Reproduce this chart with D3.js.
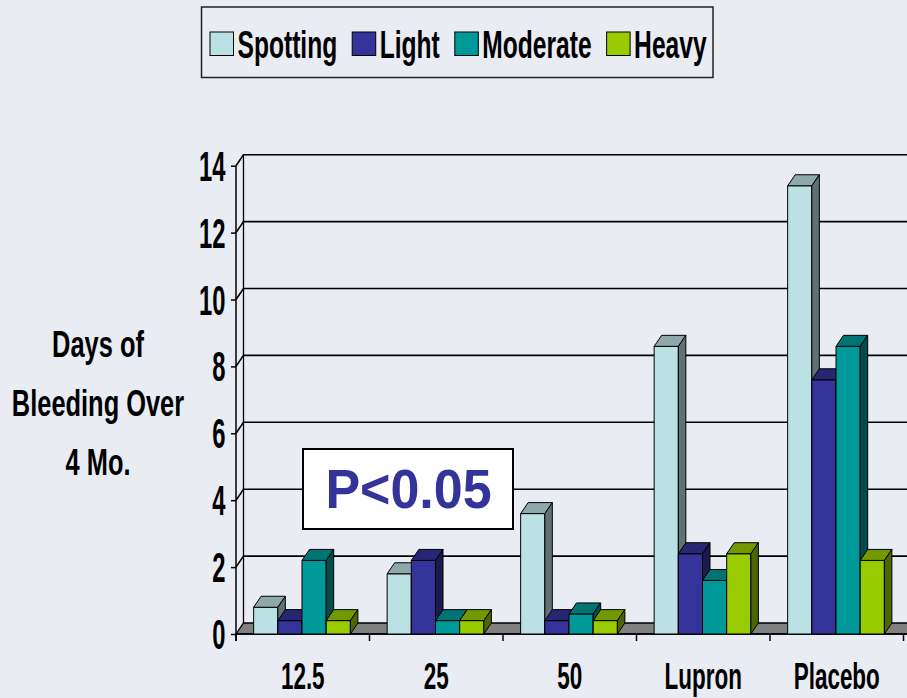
<!DOCTYPE html>
<html>
<head>
<meta charset="utf-8">
<script src="https://cdn.jsdelivr.net/npm/d3@7"></script>
<style>
  html, body { margin: 0; padding: 0; background: #E9EDF3; }
  svg { display: block; }
  .narrow { font-family: "Liberation Sans", Arial, sans-serif; font-weight: bold; }
</style>
</head>
<body>
<svg id="chart" width="907" height="698"></svg>
<script>
// Days of bleeding over four months, by dose group
const categories = ["12.5", "25", "50", "Lupron", "Placebo"];
const seriesNames = ["Spotting", "Light", "Moderate", "Heavy"];
const spotting = [0.8, 1.8, 3.6, 8.6, 13.4];
const light    = [0.4, 2.2, 0.4, 2.4, 7.6];
const moderate = [2.2, 0.4, 0.6, 1.6, 8.6];
const heavy    = [0.4, 0.4, 0.4, 2.4, 2.2];
const yTicks = [0, 2, 4, 6, 8, 10, 12, 14];
const yTitle = ["Days of", "Bleeding Over", "4 Mo."];
const note = "P<0.05";

const seriesValues = [spotting, light, moderate, heavy];
// front, top, side shades for each series
const palette = {
  Spotting: ["#BCE1E4", "#8FA9AB", "#5E7173"],
  Light:    ["#333399", "#262673", "#1A1A4D"],
  Moderate: ["#009999", "#007373", "#004D4D"],
  Heavy:    ["#99CC00", "#739900", "#4D6600"]
};

const svg = d3.select("#chart");
const W = 907, H = 698;

// 3D depth offset of the back wall
const DX = 7.5, DY = -11;
// horizontal squeeze that turns the regular face into a narrow one
const NARROW = 0.82;

const x0 = d3.scaleBand().domain(categories).range([236, 903.5]).padding(0);
const x1 = d3.scaleBand().domain(seriesNames).range([0, x0.bandwidth()])
  .paddingInner(0).paddingOuter(0.76).align(0.48);
const y = d3.scaleLinear().domain([0, 14]).range([634, 165.7]);

const xLeft = x0.range()[0];

// condensed, vertically stretched label
function stretchedText(g, x, yBase, txt, size, sy, anchor) {
  const t = g.append("g").attr("transform", `translate(${x},${yBase}) scale(${NARROW},${sy})`);
  return t.append("text").attr("class", "narrow")
    .attr("font-size", size).attr("text-anchor", anchor || "start")
    .attr("fill", "#000").text(txt);
}

// ---- back wall gridlines ----
const wall = svg.append("g");
yTicks.filter(v => v > 0).forEach(v => {
  const yy = y(v);
  wall.append("path")
    .attr("d", `M${xLeft},${yy} L${xLeft + DX},${yy + DY} L${W + 5},${yy + DY}`)
    .attr("fill", "none").attr("stroke", "#000").attr("stroke-width", 1.6);
});
wall.append("line")
  .attr("x1", xLeft + DX).attr("x2", xLeft + DX)
  .attr("y1", y(14) + DY).attr("y2", y(0) + DY)
  .attr("stroke", "#000").attr("stroke-width", 1.3);

// ---- floor ----
svg.append("path")
  .attr("d", `M${xLeft},${y(0)} L${xLeft + DX},${y(0) + DY} L${W + 20},${y(0) + DY} L${W + 20},${y(0)} Z`)
  .attr("fill", "#808080").attr("stroke", "#000").attr("stroke-width", 1.3);

// ---- y axis (front) ----
const yAxisG = svg.append("g").attr("transform", `translate(${xLeft},0)`)
  .call(d3.axisLeft(y).tickValues(yTicks).tickSize(5).tickFormat(""));
yAxisG.select(".domain").remove();
yAxisG.selectAll(".tick line").attr("stroke", "#000").attr("stroke-width", 1.5);
svg.append("line").attr("x1", xLeft).attr("x2", xLeft)
  .attr("y1", y(14)).attr("y2", y(0) + 7)
  .attr("stroke", "#000").attr("stroke-width", 1.5);
yTicks.forEach(v => {
  stretchedText(svg, 225.5, y(v) + 15, String(v), 29, 1.45, "end");
});

// ---- x axis (front edge of floor) ----
svg.append("line").attr("x1", xLeft).attr("x2", W + 5)
  .attr("y1", y(0)).attr("y2", y(0))
  .attr("stroke", "#000").attr("stroke-width", 1.6);
const xTickPos = categories.map(c => x0(c)).concat([x0.range()[1]]);
xTickPos.forEach(xx => {
  svg.append("line").attr("x1", xx).attr("x2", xx)
    .attr("y1", y(0)).attr("y2", y(0) + 7)
    .attr("stroke", "#000").attr("stroke-width", 1.5);
});
categories.forEach(c => {
  stretchedText(svg, x0(c) + x0.bandwidth() / 2, 688.5, c, 27.4, 1.36, "middle");
});

// ---- 3D bars ----
const bars = svg.append("g");
categories.forEach((c, ci) => {
  seriesNames.forEach((s, si) => {
    const v = seriesValues[si][ci];
    const xa = x0(c) + x1(s), xb = xa + x1.bandwidth();
    const yt = y(v), yb = y(0);
    const [front, top, side] = palette[s];
    const g = bars.append("g").attr("stroke", "#000").attr("stroke-width", 1).attr("stroke-linejoin", "round");
    g.append("rect").attr("x", xa).attr("y", yt).attr("width", xb - xa).attr("height", yb - yt).attr("fill", front);
    g.append("path")
      .attr("d", `M${xa},${yt} L${xa + DX},${yt + DY} L${xb + DX},${yt + DY} L${xb},${yt} Z`)
      .attr("fill", top);
    g.append("path")
      .attr("d", `M${xb},${yt} L${xb + DX},${yt + DY} L${xb + DX},${yb + DY} L${xb},${yb} Z`)
      .attr("fill", side);
  });
});

// ---- y title ----
const titleY = [356.7, 415.5, 475];
yTitle.forEach((line, i) => {
  stretchedText(svg, 98, titleY[i], line, 31, 1.2, "middle");
});

// ---- significance box ----
svg.append("rect").attr("x", 303).attr("y", 449).attr("width", 210).attr("height", 80)
  .attr("fill", "#fff").attr("stroke", "#000").attr("stroke-width", 2);
svg.append("g").attr("transform", "translate(408.5,508.3) scale(1,1.07)")
  .append("text")
  .attr("font-family", "'Liberation Sans', Arial, sans-serif")
  .attr("font-weight", "bold").attr("font-size", 52)
  .attr("text-anchor", "middle").attr("fill", "#333399").text(note);

// ---- legend ----
const legend = svg.append("g");
legend.append("rect").attr("x", 201.5).attr("y", 7).attr("width", 511.5).attr("height", 70.5)
  .attr("fill", "#E9EDF3").attr("stroke", "#222").attr("stroke-width", 1.5);
let lx = 210;
seriesNames.forEach(s => {
  legend.append("rect").attr("x", lx).attr("y", 32).attr("width", 23.5).attr("height", 23.5)
    .attr("fill", palette[s][0]).attr("stroke", "#000").attr("stroke-width", 1);
  const t = stretchedText(legend, lx + 27.5, 57.5, s, 30, 1.3, "start");
  const w = t.node().getComputedTextLength() * NARROW;
  lx += 27.5 + w + 15;
});
</script>
</body>
</html>
